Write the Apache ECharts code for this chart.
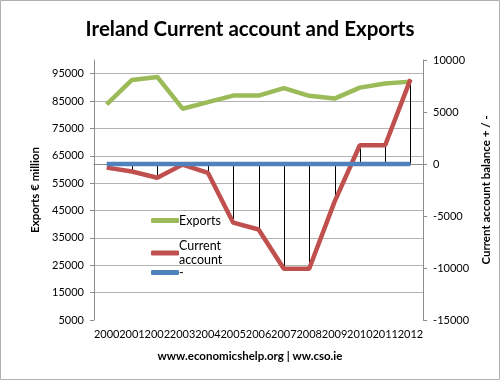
<!DOCTYPE html>
<html>
<head>
<meta charset="utf-8">
<script src="https://cdn.jsdelivr.net/npm/echarts@6/dist/echarts.min.js"></script>
<style>html,body{margin:0;padding:0;background:#fff;}#c{width:500px;height:382px;}</style>
</head>
<body>
<div id="c"></div>
<script>
const years = ['2000','2001','2002','2003','2004','2005','2006','2007','2008','2009','2010','2011','2012'];
const exportsVals = [83800, 92700, 93800, 82200, 84600, 87000, 87000, 89700, 86900, 85900, 89900, 91400, 92100];
const currentAccount = [-350, -720, -1320, -60, -850, -5640, -6300, -10070, -10070, -3640, 1800, 1800, 8140];
const dashSeries = [0, 0, 0, 0, 0, 0, 0, 0, 0, 0, 0, 0, 0];

const FONT = 'Lato';
const chart = echarts.init(document.getElementById('c'), null, {renderer: 'canvas'});
const gridColors = ['transparent','#b3b3b3','#b3b3b3','#b3b3b3','#b3b3b3','#b3b3b3','#b3b3b3','#b3b3b3','#b3b3b3','#b3b3b3','transparent'];
const plain = v => String(v);

chart.setOption({
  animation: false,
  backgroundColor: '#fff',
  textStyle: {fontFamily: FONT},
  title: {
    text: 'Ireland Current account and Exports',
    left: 'center', top: 14,
    textStyle: {fontFamily: FONT, fontSize: 20.5, fontWeight: 'bold', color: '#000'}
  },
  graphic: [
    {type: 'rect', shape: {x: 0.5, y: 0.5, width: 499, height: 379}, style: {fill: 'none', stroke: '#b0b0b0', lineWidth: 1}, silent: true},
    {type: 'text', left: 'center', top: 350, style: {text: 'www.economicshelp.org | ww.cso.ie', font: 'bold 11.5px ' + FONT, fill: '#000'}}
  ],
  legend: [
    {orient: 'vertical', left: 146, top: 209, itemWidth: 28, itemHeight: 5, icon: 'roundRect',
     textStyle: {fontFamily: FONT, fontSize: 12.5, color: '#000', padding: [0,0,0,-5]}, data: ['Exports'], selectedMode: false},
    {orient: 'vertical', left: 146, top: 227, itemWidth: 28, itemHeight: 5, icon: 'roundRect',
     textStyle: {fontFamily: FONT, fontSize: 12.5, color: '#000', lineHeight: 14, padding: [14,0,0,-5]},
     formatter: function(){ return 'Current\naccount'; }, data: ['Current account'], selectedMode: false},
    {orient: 'vertical', left: 146, top: 261, itemWidth: 28, itemHeight: 5, icon: 'roundRect',
     textStyle: {fontFamily: FONT, fontSize: 12.5, color: '#000', padding: [0,0,0,-5]}, data: ['-'], selectedMode: false}
  ],
  grid: {left: 94, right: 68, top: 60, bottom: 62},
  xAxis: {
    type: 'category', data: years, boundaryGap: true,
    axisLine: {show: true, lineStyle: {color: '#8c8c8c'}},
    axisTick: {show: false},
    axisLabel: {interval: 0, margin: 9, fontFamily: FONT, fontSize: 11, color: '#000'}
  },
  yAxis: [
    {type: 'value', min: 5000, max: 100000, interval: 10000, position: 'left',
     name: 'Exports € million', nameLocation: 'middle', nameGap: 52, nameRotate: 90,
     nameTextStyle: {fontFamily: FONT, fontSize: 11.5, fontWeight: 'bold', color: '#000'},
     axisLine: {show: true, lineStyle: {color: '#8c8c8c'}},
     axisTick: {show: true, length: 4, lineStyle: {color: '#8c8c8c'}},
     axisLabel: {showMaxLabel: false, margin: 10, fontFamily: FONT, fontSize: 11, color: '#000', formatter: plain},
     splitLine: {show: true, lineStyle: {color: gridColors, width: 1}}},
    {type: 'value', min: -15000, max: 10000, interval: 5000, position: 'right',
     name: 'Current account balance + / -', nameLocation: 'middle', nameGap: 50, nameRotate: 90,
     nameTextStyle: {fontFamily: FONT, fontSize: 11.5, fontWeight: 'bold', color: '#000'},
     axisLine: {show: true, lineStyle: {color: '#8c8c8c'}},
     axisTick: {show: true, length: 4, inside: false, lineStyle: {color: '#8c8c8c'}},
     axisLabel: {margin: 10, fontFamily: FONT, fontSize: 11, color: '#000', formatter: plain},
     splitLine: {show: false}}
  ],
  series: [
    {type: 'custom', name: 'hilo', yAxisIndex: 1, z: 1,
     data: currentAccount.map((v, i) => [i, v]),
     renderItem: function(params, api) {
       const i = api.value(0), v = api.value(1);
       const p1 = api.coord([i, 0]);
       const p2 = api.coord([i, v]);
       return {type: 'line', shape: {x1: Math.round(p1[0]) + 0.5, y1: p1[1], x2: Math.round(p2[0]) + 0.5, y2: p2[1]}, style: {stroke: '#000', lineWidth: 1}};
     }},
    {type: 'line', name: 'Exports', yAxisIndex: 0, data: exportsVals, symbol: 'none', z: 3,
     lineStyle: {color: '#9BBB59', width: 4.5}, itemStyle: {color: '#9BBB59'}},
    {type: 'line', name: 'Current account', yAxisIndex: 1, data: currentAccount, symbol: 'none', z: 3,
     lineStyle: {color: '#C0504D', width: 4.5}, itemStyle: {color: '#C0504D'}},
    {type: 'line', name: '-', yAxisIndex: 1, data: dashSeries, symbol: 'none', z: 4,
     lineStyle: {color: '#4F81BD', width: 4.5}, itemStyle: {color: '#4F81BD'}}
  ]
});
</script>
</body>
</html>
